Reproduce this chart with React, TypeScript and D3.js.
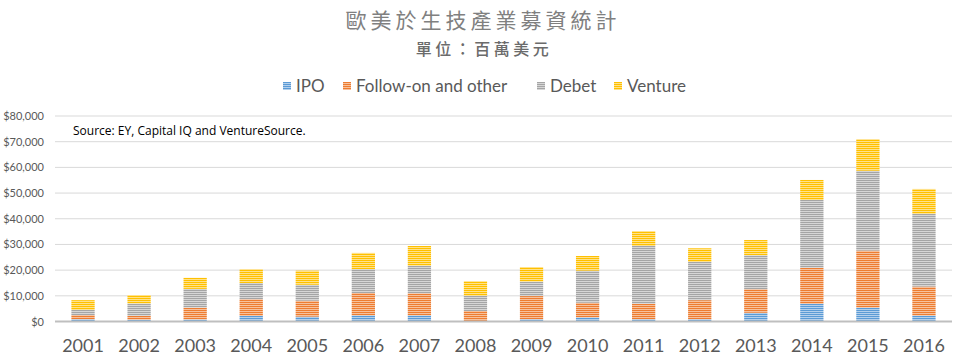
import React from "react";
import * as d3 from "d3";

const years = ["2001","2002","2003","2004","2005","2006","2007","2008","2009","2010","2011","2012","2013","2014","2015","2016"];
const ipo =      [900, 700, 800, 2200, 1900, 2400, 2400, 100, 900, 1600, 900, 900, 3400, 6900, 5400, 2300];
const followOn = [1600, 1500, 4600, 6500, 6200, 8700, 8600, 4000, 9000, 5700, 6000, 7400, 9200, 14000, 22200, 11300];
const debet =    [2000, 4800, 7300, 6300, 6200, 9300, 10700, 5900, 5600, 12500, 22500, 14900, 13200, 26400, 31100, 28300];
const venture =  [3800, 3300, 4300, 5400, 5500, 6300, 7700, 5700, 5700, 5700, 5800, 5300, 5900, 7800, 12300, 9700];
const seriesNames = ["IPO", "Follow-on and other", "Debet", "Venture"];
const yTicks = [0, 10000, 20000, 30000, 40000, 50000, 60000, 70000, 80000];

const colors = ["#5B9BD5", "#ED7D31", "#A5A5A5", "#FFC000"];
const lights = ["#B4D0EC", "#F7C19C", "#D6D6D6", "#FFE28A"];

export default function App() {
  const W = 954, H = 361;
  const left = 55, right = 952, y0 = 321.5, yTop = 116;
  const x = d3.scaleBand().domain(years).range([left, right]).paddingInner(0.585).paddingOuter(0.2925);
  const y = d3.scaleLinear().domain([0, 80000]).range([y0, yTop]);
  const table = years.map((yr, i) => ({ year: yr, s0: ipo[i], s1: followOn[i], s2: debet[i], s3: venture[i] }));
  const stack = d3.stack<any>().keys(["s0", "s1", "s2", "s3"])(table);
  const fmt = (v: number) => "$" + d3.format(",")(v);
  const font = "Lato, 'Open Sans', sans-serif";
  const legendX = [283, 343, 537, 614];

  return (
    <svg width={W} height={H} style={{ position: "absolute", left: 0, top: 0, background: "#fff" }}>
      <defs>
        {colors.map((c, i) => (
          <pattern key={i} id={"pat" + i} patternUnits="userSpaceOnUse" width={4} height={2}>
            <rect x={0} y={0} width={4} height={2} fill={c} />
            <rect x={0} y={1} width={4} height={1} fill={lights[i]} />
          </pattern>
        ))}
      </defs>
      <text x={483} y={28} textAnchor="middle" fontFamily="'Noto Sans CJK TC', sans-serif" fontSize={21} letterSpacing={4} fill="#808080">歐美於生技產業募資統計</text>
      <text x={484} y={55} textAnchor="middle" fontFamily="'Noto Sans CJK TC', sans-serif" fontSize={16} fontWeight={500} letterSpacing={3.5} fill="#6b6b6b">單位：百萬美元</text>
      {seriesNames.map((n, i) => (
        <g key={n}>
          <rect x={legendX[i]} y={82} width={8} height={8} fill={`url(#pat${i})`} />
          <text x={legendX[i] + 13} y={92} fontFamily={font} fontSize={17} fill="#595959">{n}</text>
        </g>
      ))}
      {yTicks.map((t) => (
        <g key={t}>
          {t > 0 && <line x1={left} x2={right} y1={y(t)} y2={y(t)} stroke="#D9D9D9" strokeWidth={1} />}
          <text x={44} y={y(t) + 4} textAnchor="end" fontFamily={font} fontSize={11} fill="#595959">{fmt(t)}</text>
        </g>
      ))}
      <text x={73} y={135} fontFamily="'Open Sans', sans-serif" fontSize={12} fill="#000">Source: EY, Capital IQ and VentureSource.</text>
      {stack.map((layer, si) => (
        <g key={si} fill={`url(#pat${si})`}>
          {layer.map((d: any, i: number) => (
            <rect key={i} x={x(years[i])} width={x.bandwidth()} y={y(d[1])} height={Math.max(0, y(d[0]) - y(d[1]))} />
          ))}
        </g>
      ))}
      <line x1={left} x2={right} y1={y0} y2={y0} stroke="#BFBFBF" strokeWidth={2} />
      {years.map((yr) => (
        <text key={yr} x={(x(yr) as number) + x.bandwidth() / 2} y={352} textAnchor="middle" fontFamily={font} fontSize={18} fill="#595959">{yr}</text>
      ))}
    </svg>
  );
}
